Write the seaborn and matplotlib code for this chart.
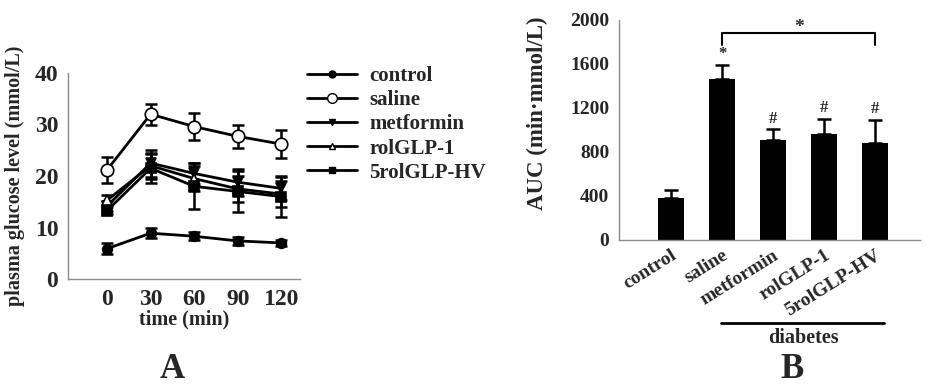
import matplotlib
matplotlib.use("Agg")
import matplotlib.pyplot as plt
import matplotlib.transforms as mtransforms
from matplotlib.lines import Line2D
import numpy as np
import pandas as pd
import seaborn as sns

# ---- data ----
times = [0, 30, 60, 90, 120]
series_names = ["control", "saline", "metformin", "rolGLP-1", "5rolGLP-HV"]
control = [5.9, 8.9, 8.3, 7.4, 7.0]
control_sd = [1.0, 1.0, 0.8, 0.8, 0.5]
saline = [21.2, 32.0, 29.6, 27.7, 26.2]
saline_sd = [2.5, 2.0, 2.6, 2.3, 2.8]
metformin = [14.2, 22.5, 20.5, 18.8, 17.6]
metformin_sd = [1.0, 2.6, 2.0, 2.6, 2.3]
rolglp1 = [15.3, 22.0, 19.5, 17.5, 16.5]
rolglp1_sd = [1.0, 2.5, 2.5, 2.5, 2.5]
rolglphv = [13.3, 21.5, 18.0, 17.0, 16.0]
rolglphv_sd = [0.6, 2.8, 4.5, 4.0, 4.0]

auc_groups = ["control", "saline", "metformin", "rolGLP-1", "5rolGLP-HV"]
auc = [380, 1465, 905, 960, 885]
auc_sd = [75, 125, 100, 140, 210]
auc_marks = ["", "*", "#", "#", "#"]

sns.set_theme(style="white")
plt.rcParams['font.family'] = ['Liberation Serif', 'DejaVu Serif']
plt.rcParams['font.weight'] = 'bold'

fig = plt.figure(figsize=(9.27, 3.85), dpi=100)
W, H = 927, 385
def box(l, t, r, b):
    return [l / W, 1 - b / H, (r - l) / W, (b - t) / H]

axA = fig.add_axes(box(68, 73, 300, 279))
axB = fig.add_axes(box(619, 20, 920, 240))

spine_col = "#8c8c8c"
for ax in (axA, axB):
    for s in ("top", "right"):
        ax.spines[s].set_visible(False)
    for s in ("left", "bottom"):
        ax.spines[s].set_color(spine_col)
        ax.spines[s].set_linewidth(1.0)
    ax.tick_params(axis="both", direction="out", length=3, width=1,
                   color=spine_col, pad=4)

# ---- Panel A ----
styles = {
    "control": dict(marker="o", mfc="black", ms=7),
    "saline": dict(marker="o", mfc="white", ms=9),
    "metformin": dict(marker="v", mfc="black", ms=7),
    "rolGLP-1": dict(marker="^", mfc="white", ms=7),
    "5rolGLP-HV": dict(marker="s", mfc="black", ms=7),
}
vals = [control, saline, metformin, rolglp1, rolglphv]
sds = [control_sd, saline_sd, metformin_sd, rolglp1_sd, rolglphv_sd]
handles = []
for name, v, sd in zip(series_names, vals, sds):
    st = styles[name]
    df = pd.DataFrame({"time": times, "glucose": v})
    axA.errorbar(times, v, yerr=sd, fmt="none", ecolor="black",
                 elinewidth=1.8, capsize=4, capthick=1.8, zorder=2)
    sns.lineplot(data=df, x="time", y="glucose", ax=axA, color="black",
                 lw=2, marker=st["marker"], markersize=st["ms"],
                 markerfacecolor=st["mfc"], markeredgecolor="black",
                 markeredgewidth=1.2, zorder=3)
    handles.append(Line2D([], [], color="black", lw=2, marker=st["marker"],
                          markersize=st["ms"] - 2, markerfacecolor=st["mfc"],
                          markeredgecolor="black", markeredgewidth=1.0))

axA.set_xlim(-27, 133)
axA.set_ylim(0, 40)
axA.set_xticks(times)
axA.set_yticks([0, 10, 20, 30, 40])
axA.tick_params(axis="both", labelsize=17)
for lab in axA.get_xticklabels() + axA.get_yticklabels():
    lab.set_fontweight("bold")
axA.set_xlabel("time (min)", fontsize=14.5, fontweight="bold", labelpad=0)
axA.set_ylabel("plasma glucose level (mmol/L)", fontsize=14.5,
               fontweight="bold", labelpad=7)

fig.legend(handles, series_names, loc="upper left",
           bbox_to_anchor=(307 / W, 1 - 66 / H), frameon=False,
           prop=dict(family="Liberation Serif", weight="bold", size=15),
           handlelength=2.4, handletextpad=0.6, labelspacing=0.2,
           borderaxespad=0, borderpad=0)

# ---- Panel B ----
dfb = pd.DataFrame({"group": auc_groups, "auc": auc})
sns.barplot(data=dfb, x="group", y="auc", color="black", width=0.5,
            saturation=1, ax=axB, zorder=2, edgecolor="black", linewidth=0)
xpos = np.arange(len(auc_groups))
axB.errorbar(xpos, auc, yerr=[np.zeros(len(auc)), auc_sd], fmt="none",
             ecolor="black", elinewidth=1.8, capsize=5, capthick=1.8, zorder=3)
for x, a, s, m in zip(xpos, auc, auc_sd, auc_marks):
    if m:
        axB.text(x, a + s + 25, m, ha="center", va="bottom", fontsize=12,
                 fontweight="bold")
axB.plot([1, 1, 4, 4], [1770, 1880, 1880, 1770], color="black", lw=1.5)
axB.text(2.5, 1895, "*", ha="center", va="baseline", fontsize=14,
         fontweight="bold")

axB.set_xlim(-1.02, 4.88)
axB.set_ylim(0, 2000)
axB.set_yticks([0, 400, 800, 1200, 1600, 2000])
axB.set_xlabel("")
axB.set_ylabel("AUC (min\u00b7mmol/L)", fontsize=16.5, fontweight="bold")
axB.yaxis.set_label_coords(-0.235, 0.575)
axB.tick_params(axis="y", labelsize=14)
axB.tick_params(axis="x", labelsize=14, pad=2)
axB.set_xticks(xpos)
axB.set_xticklabels(auc_groups, rotation=32, ha="right",
                    rotation_mode="anchor", fontweight="bold")
for lab in axB.get_yticklabels():
    lab.set_fontweight("bold")

trans = mtransforms.blended_transform_factory(axB.transData, axB.transAxes)
axB.plot([0.97, 4.18], [-0.377, -0.377], transform=trans, color="black",
         lw=2, clip_on=False)
axB.text(2.6, -0.445, "diabetes", transform=trans, ha="center", va="center",
         fontsize=14.5, fontweight="bold")

fig.text(172 / W, 1 - 370 / H, "A", ha="center", va="center", fontsize=25,
         fontweight="bold")
fig.text(792 / W, 1 - 370 / H, "B", ha="center", va="center", fontsize=25,
         fontweight="bold")

fig.savefig("out.png", dpi=100)
